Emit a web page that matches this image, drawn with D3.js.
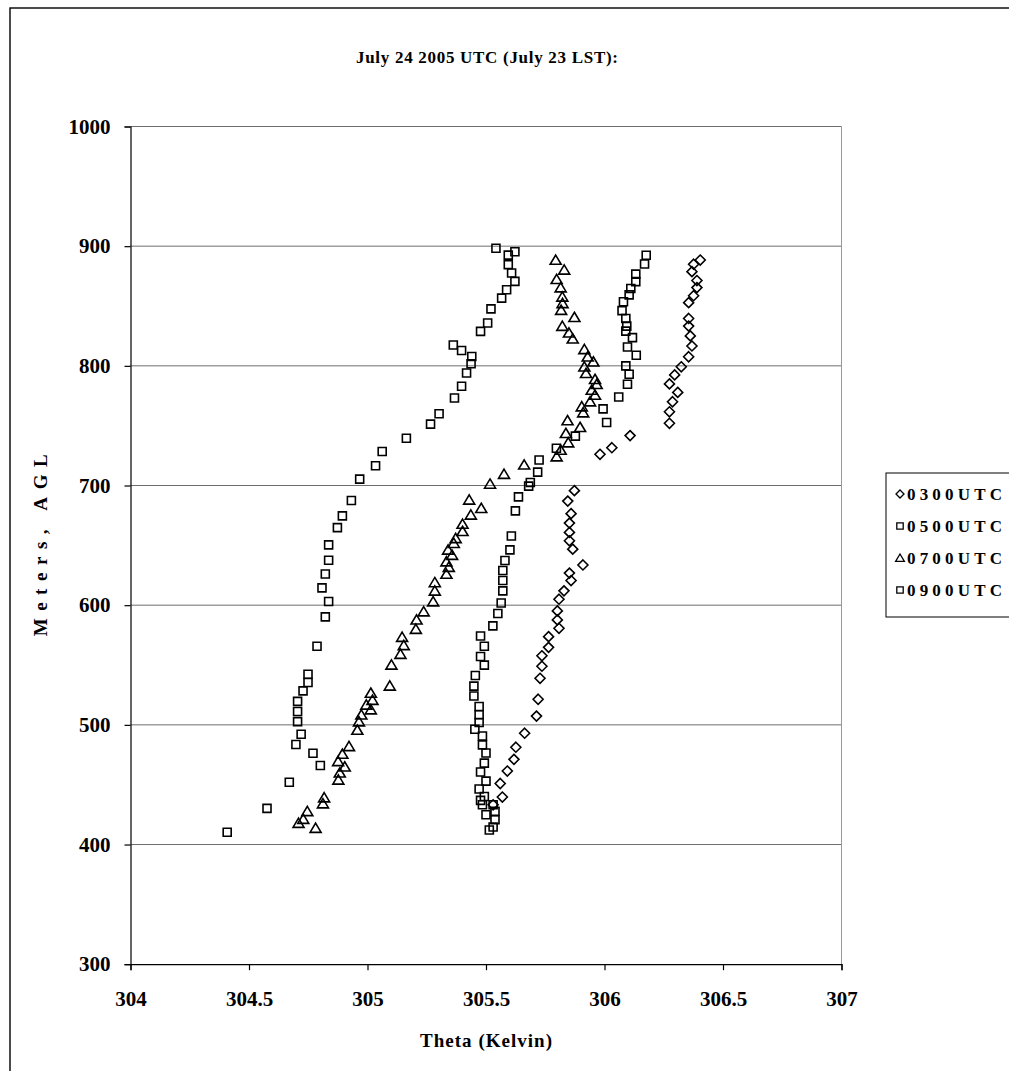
<!DOCTYPE html>
<html>
<head>
<meta charset="utf-8">
<script src="https://cdnjs.cloudflare.com/ajax/libs/d3/7.8.5/d3.min.js"></script>
<style>
  body { margin: 0; background: #fff; }
  text { font-family: "Liberation Serif", "Times New Roman", serif; font-weight: bold; fill: #000; }
</style>
</head>
<body>
<svg></svg>
<script>
// [theta K, height m AGL]
let utc0300 = [
  [306.404, 888.4], [306.376, 884.9], [306.369, 878.7], [306.390, 871.3], [306.390, 865.4],
  [306.376, 858.6], [306.355, 852.8], [306.355, 839.6], [306.355, 833.2], [306.362, 825.0],
  [306.369, 816.6], [306.355, 807.6], [306.324, 799.2], [306.296, 792.4], [306.274, 784.9],
  [306.309, 777.8], [306.287, 770.0], [306.274, 761.6], [306.274, 752.0], [306.108, 741.7],
  [306.031, 731.6], [305.981, 726.1], [305.873, 695.7], [305.845, 687.0], [305.859, 676.5],
  [305.852, 668.6], [305.852, 660.8], [305.852, 653.8], [305.866, 646.8], [305.909, 633.6],
  [305.852, 626.8], [305.859, 620.6], [305.829, 612.0], [305.808, 605.0], [305.801, 595.2],
  [305.801, 587.7], [305.808, 580.7], [305.764, 573.7], [305.764, 564.8], [305.736, 557.7],
  [305.736, 549.0], [305.728, 538.9], [305.720, 521.4], [305.713, 507.3], [305.663, 493.0],
  [305.626, 481.3], [305.618, 471.2], [305.590, 461.4], [305.560, 451.0], [305.569, 439.7],
  [305.530, 433.2]
];

let utc0500 = [
  [306.176, 892.4], [306.169, 885.1], [306.132, 876.6], [306.132, 870.4], [306.111, 864.6],
  [306.104, 859.3], [306.080, 853.6], [306.074, 846.1], [306.090, 839.6], [306.094, 833.2],
  [306.090, 829.0], [306.118, 823.6], [306.097, 815.8], [306.134, 808.8], [306.090, 800.0],
  [306.104, 793.0], [306.097, 784.6], [306.060, 774.0], [305.994, 764.0], [306.009, 752.7],
  [305.877, 741.3], [305.797, 731.1], [305.724, 721.3], [305.718, 711.2], [305.687, 702.5],
  [305.680, 699.5], [305.637, 690.5], [305.624, 678.8], [305.607, 657.8], [305.601, 646.2],
  [305.580, 637.4], [305.571, 629.0], [305.571, 620.6], [305.571, 612.0], [305.564, 601.8],
  [305.550, 593.0], [305.529, 582.7], [305.477, 574.2], [305.493, 565.7], [305.477, 557.1],
  [305.493, 549.9], [305.455, 541.2], [305.449, 532.4], [305.449, 524.1], [305.471, 515.4],
  [305.471, 508.4], [305.471, 502.0], [305.453, 496.3], [305.485, 490.7], [305.485, 483.3],
  [305.500, 476.5], [305.493, 468.0], [305.477, 460.6], [305.500, 453.0], [305.471, 446.4],
  [305.493, 440.1], [305.477, 436.9], [305.485, 433.2], [305.530, 433.2], [305.538, 427.7],
  [305.500, 424.9], [305.538, 420.7], [305.530, 414.6], [305.514, 412.2]
];

let utc0700 = [
  [305.794, 888.4], [305.830, 880.2], [305.798, 872.3], [305.815, 865.4], [305.822, 857.6],
  [305.823, 852.2], [305.817, 846.6], [305.873, 840.6], [305.822, 833.2], [305.850, 827.6],
  [305.866, 822.6], [305.915, 813.8], [305.929, 807.6], [305.953, 803.4], [305.915, 799.2],
  [305.922, 793.8], [305.960, 788.8], [305.967, 784.6], [305.946, 779.8], [305.960, 775.6],
  [305.939, 770.1], [305.904, 765.9], [305.910, 760.9], [305.844, 754.3], [305.897, 748.7],
  [305.837, 743.7], [305.847, 735.8], [305.815, 729.7], [305.798, 724.1], [305.661, 717.3],
  [305.576, 709.5], [305.517, 701.3], [305.429, 688.0], [305.480, 681.0], [305.436, 675.5],
  [305.401, 667.8], [305.401, 661.8], [305.372, 655.8], [305.364, 651.8], [305.340, 646.2],
  [305.357, 641.8], [305.333, 636.4], [305.343, 631.8], [305.333, 626.0], [305.284, 619.0],
  [305.284, 612.0], [305.277, 603.0], [305.237, 594.6], [305.207, 587.8], [305.204, 580.0],
  [305.146, 573.3], [305.153, 566.4], [305.139, 559.1], [305.101, 550.1], [305.094, 532.6],
  [305.014, 526.6], [305.021, 520.7], [304.995, 516.7], [305.014, 512.7], [304.974, 508.4],
  [304.964, 502.7], [304.957, 495.7], [304.922, 482.0], [304.894, 475.6], [304.876, 469.5],
  [304.904, 465.0], [304.883, 460.0], [304.877, 454.0], [304.817, 439.2], [304.812, 434.2],
  [304.746, 427.7], [304.729, 421.2], [304.709, 417.9], [304.781, 413.7]
];

let utc0900 = [
  [305.542, 898.3], [305.594, 892.5], [305.622, 895.4], [305.594, 884.6], [305.608, 877.6],
  [305.622, 870.6], [305.587, 863.6], [305.566, 856.6], [305.521, 847.6], [305.507, 835.8],
  [305.477, 828.8], [305.362, 817.4], [305.397, 812.8], [305.440, 807.8], [305.437, 801.7],
  [305.418, 794.0], [305.397, 783.0], [305.367, 773.1], [305.302, 760.0], [305.266, 751.3],
  [305.164, 739.5], [305.062, 728.4], [305.034, 716.5], [304.967, 705.3], [304.932, 687.5],
  [304.894, 674.6], [304.873, 664.8], [304.836, 650.4], [304.836, 637.6], [304.822, 626.0],
  [304.808, 614.5], [304.836, 603.1], [304.822, 590.2], [304.787, 565.7], [304.749, 542.3],
  [304.749, 535.4], [304.728, 528.4], [304.705, 519.6], [304.705, 511.2], [304.705, 502.7],
  [304.720, 492.2], [304.698, 483.6], [304.770, 476.3], [304.801, 466.0], [304.670, 452.0],
  [304.576, 430.2], [304.408, 410.3]
];

let seriesNames = ["0300UTC", "0500UTC", "0700UTC", "0900UTC"];
let seriesShapes = ["diamond", "square", "triangle", "square"];
let xTicks = [304, 304.5, 305, 305.5, 306, 306.5, 307];
let yTicks = [300, 400, 500, 600, 700, 800, 900, 1000];

let width = 1009;
let height = 1071;
let plotLeft = 130.5, plotRight = 841.5, plotTop = 126.5, plotBottom = 964.2;

let svg = d3.select("svg").attr("width", width).attr("height", height);

let xScale = d3.scaleLinear().domain([304, 307]).range([plotLeft, plotRight]);
let yScale = d3.scaleLinear().domain([300, 1000]).range([plotBottom, plotTop]);

let shapePath = (shape, s) => {
  if (shape === "diamond") return `M0,${-s}L${s},0L0,${s}L${-s},0Z`;
  if (shape === "triangle") return `M0,${-s}L${s * 1.1},${s * 0.85}L${-s * 1.1},${s * 0.85}Z`;
  return `M${-s * 0.8},${-s * 0.8}H${s * 0.8}V${s * 0.8}H${-s * 0.8}Z`;
};

// outer chart frame (runs off the right / bottom edge)
svg.append("rect")
  .attr("x", 10).attr("y", 8)
  .attr("width", 1100).attr("height", 1100)
  .attr("fill", "none").attr("stroke", "#000").attr("stroke-width", 1.4);

// gridlines
svg.append("g")
  .selectAll("line")
  .data(yTicks.filter((d) => d > 300))
  .enter()
  .append("line")
  .attr("x1", plotLeft).attr("x2", plotRight)
  .attr("y1", (d) => yScale(d)).attr("y2", (d) => yScale(d))
  .attr("stroke", "#6e6e6e").attr("stroke-width", 1);

svg.append("line")
  .attr("x1", plotRight).attr("x2", plotRight)
  .attr("y1", plotTop).attr("y2", plotBottom)
  .attr("stroke", "#999");

// axes
let xAxis = d3.axisBottom(xScale).tickValues(xTicks).tickSize(6).tickFormat((d) => d);
let yAxis = d3.axisLeft(yScale).tickValues(yTicks).tickSize(6).tickFormat((d) => d);

let gx = svg.append("g")
  .attr("transform", "translate(0," + plotBottom + ")")
  .call(xAxis);
gx.selectAll("text")
  .attr("y", 27)
  .style("font-size", "21px")
  .style("font-family", "'Liberation Serif', serif")
  .style("font-weight", "bold");

let gy = svg.append("g")
  .attr("transform", "translate(" + plotLeft + ",0)")
  .call(yAxis);
gy.selectAll("text")
  .attr("x", -20)
  .style("font-size", "21px")
  .style("font-family", "'Liberation Serif', serif")
  .style("font-weight", "bold");

svg.selectAll(".domain, .tick line").attr("stroke", "#000").attr("stroke-width", 1.2);

// points
let allSeries = [utc0300, utc0500, utc0700, utc0900];
allSeries.forEach((values, i) => {
  svg.append("g")
    .selectAll("path")
    .data(values)
    .enter()
    .append("path")
    .attr("d", shapePath(seriesShapes[i], 5))
    .attr("transform", (d) => "translate(" + xScale(d[0]) + "," + yScale(d[1]) + ")")
    .attr("fill", "none")
    .attr("stroke", "#000")
    .attr("stroke-width", 1.6);
});

// titles
svg.append("text")
  .attr("x", 487).attr("y", 63)
  .attr("text-anchor", "middle")
  .attr("textLength", 262).attr("lengthAdjust", "spacing")
  .style("font-size", "17px")
  .text("July 24 2005 UTC (July 23 LST):");

svg.append("text")
  .attr("x", 486).attr("y", 1047)
  .attr("text-anchor", "middle")
  .attr("textLength", 132).attr("lengthAdjust", "spacing")
  .style("font-size", "19px")
  .text("Theta (Kelvin)");

svg.append("text")
  .attr("transform", "translate(47," + ((plotTop + plotBottom) / 2) + ") rotate(-90)")
  .attr("text-anchor", "middle")
  .attr("textLength", 182).attr("lengthAdjust", "spacing")
  .style("font-size", "19px")
  .text("Meters, AGL");

// legend
let legend = svg.append("g");
legend.append("rect")
  .attr("x", 886).attr("y", 473)
  .attr("width", 140).attr("height", 144)
  .attr("fill", "#fff").attr("stroke", "#000").attr("stroke-width", 1);

seriesNames.forEach((name, i) => {
  let ly = 494 + i * 32;
  legend.append("path")
    .attr("d", shapePath(seriesShapes[i], 4))
    .attr("transform", "translate(900," + ly + ")")
    .attr("fill", "none").attr("stroke", "#000").attr("stroke-width", 1.3);
  legend.append("text")
    .attr("x", 907).attr("y", ly + 6)
    .attr("textLength", 95).attr("lengthAdjust", "spacing")
    .style("font-size", "17px")
    .text(name);
});
</script>
</body>
</html>
